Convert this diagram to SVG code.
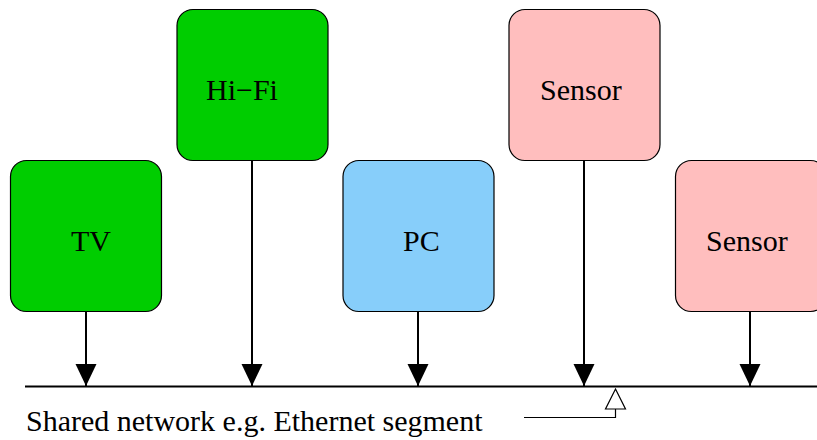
<svg xmlns="http://www.w3.org/2000/svg" width="817" height="440" viewBox="0 0 817 440">
<style>
.box{stroke:#000;stroke-width:1.2}
.green{fill:#00cd00}
.blue{fill:#87cefa}
.pink{fill:#ffbebe}
.lbl{font-family:'Liberation Serif','Times New Roman',serif;font-size:30px;fill:#000}
.wire{stroke:#000;stroke-width:2;fill:none}
</style>
<defs>
<marker id="ah" markerUnits="userSpaceOnUse" markerWidth="22" markerHeight="22" refX="22" refY="10.5" orient="auto" viewBox="0 0 22 21">
<path d="M0,0 L22,10.5 L0,21 Z" fill="#000"/>
</marker>
</defs>
<rect width="817" height="440" fill="#fff"/>
<g id="bus">
<line x1="25" y1="386.5" x2="817" y2="386.5" stroke="#000" stroke-width="2.2"/>
</g>
<g id="tv">
<rect class="box green" x="10.5" y="160.5" width="151" height="151" rx="16"/>
<text class="lbl" x="71" y="251">TV</text>
</g>
<g id="hifi">
<rect class="box green" x="177" y="9.5" width="151" height="151" rx="16"/>
<text class="lbl" x="206" y="100">Hi−Fi</text>
</g>
<g id="pc">
<rect class="box blue" x="343" y="160.5" width="151" height="151" rx="16"/>
<text class="lbl" x="403" y="251">PC</text>
</g>
<g id="sensor1">
<rect class="box pink" x="509" y="9.5" width="151" height="151" rx="16"/>
<text class="lbl" x="540" y="100">Sensor</text>
</g>
<g id="sensor2">
<rect class="box pink" x="675.5" y="160.5" width="151" height="151" rx="16"/>
<text class="lbl" x="706" y="251">Sensor</text>
</g>
<g id="connectors">
<line class="wire" x1="86" y1="311.5" x2="86" y2="386" marker-end="url(#ah)"/>
<line class="wire" x1="252" y1="160.5" x2="252" y2="386" marker-end="url(#ah)"/>
<line class="wire" x1="418" y1="311.5" x2="418" y2="386" marker-end="url(#ah)"/>
<line class="wire" x1="584" y1="160.5" x2="584" y2="386" marker-end="url(#ah)"/>
<line class="wire" x1="750" y1="311.5" x2="750" y2="386" marker-end="url(#ah)"/>
</g>
<g id="annotation">
<polyline points="524,417.5 615.5,417.5 615.5,409" fill="none" stroke="#000" stroke-width="1.2"/>
<path d="M615.5,389 L625.5,409 L605.5,409 Z" fill="#fff" stroke="#000" stroke-width="1.2"/>
<text class="lbl" x="26" y="431">Shared network e.g. Ethernet segment</text>
</g>
</svg>
